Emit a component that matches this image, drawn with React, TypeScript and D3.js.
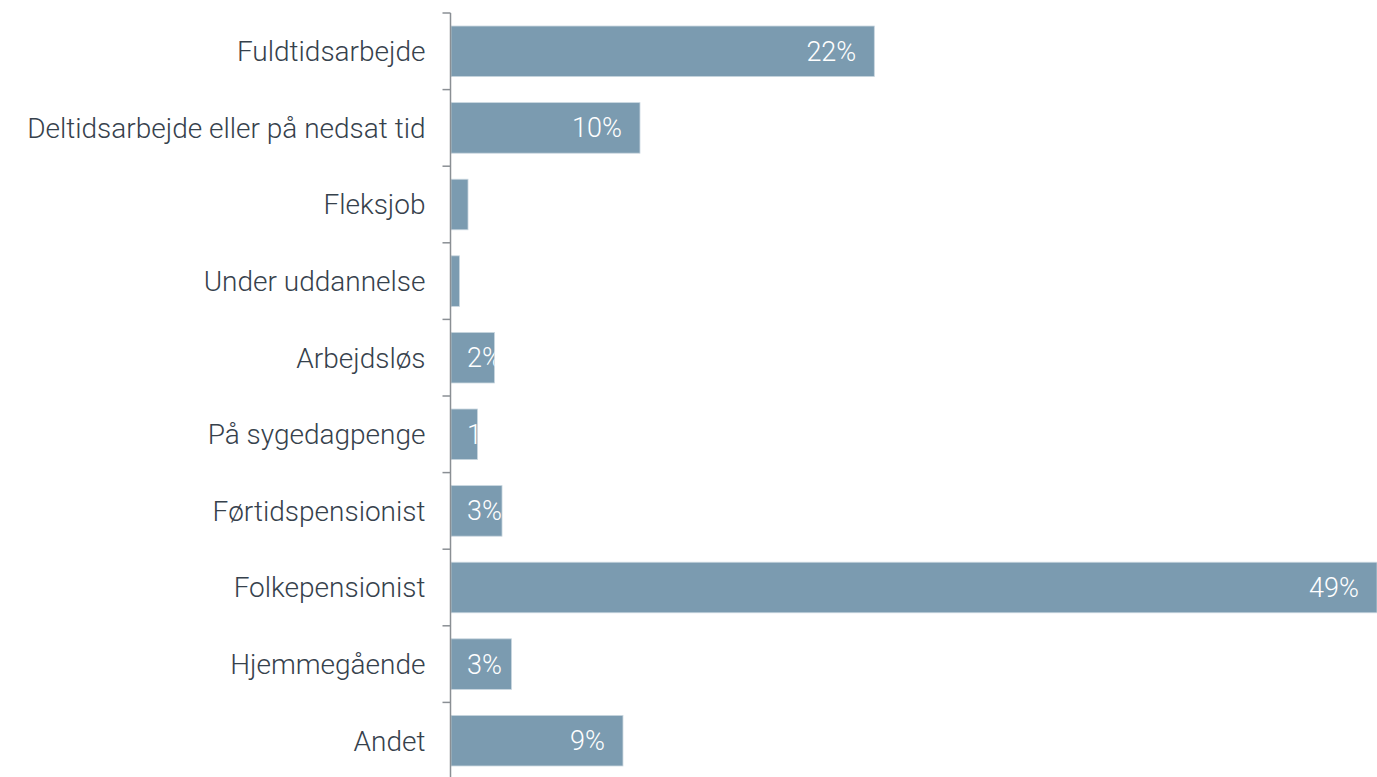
import React from "react";
import * as d3 from "d3";

const categories = [
  "Fuldtidsarbejde",
  "Deltidsarbejde eller på nedsat tid",
  "Fleksjob",
  "Under uddannelse",
  "Arbejdsløs",
  "På sygedagpenge",
  "Førtidspensionist",
  "Folkepensionist",
  "Hjemmegående",
  "Andet",
];
const values = [22.4, 10.0, 0.9, 0.45, 2.3, 1.4, 2.7, 49.0, 3.2, 9.1];

const W = 1377;
const H = 777;
const axisX = 450.5;
const x0 = 451;
const top = 13;
const bottom = 779;
const FONT = "Roboto, 'Noto Sans', sans-serif";

export default function App() {
  const y = d3.scaleBand<string>().domain(categories).range([top, bottom]).paddingInner(0.34).paddingOuter(0.17);
  const x = d3.scaleLinear().domain([0, d3.max(values)!]).range([x0, W]);
  const step = y.step();
  const ticks = d3.range(categories.length + 1).map((i) => top + i * step);

  return (
    <svg width={W} height={H} style={{ position: "absolute", left: 0, top: 0, display: "block" }}>
      <defs>
        {categories.map((c, i) => (
          <clipPath id={`clip${i}`} key={c}>
            <rect x={x0} y={y(c)!} width={x(values[i]) - x0} height={y.bandwidth()} />
          </clipPath>
        ))}
      </defs>
      {categories.map((c, i) => {
        const bw = x(values[i]) - x0;
        const label = `${Math.round(values[i])}%`;
        const lw = (label.length - 1) * 15.2 + 19.7;
        return (
          <g key={c}>
            <rect
              x={x0}
              y={y(c)!}
              width={bw}
              height={y.bandwidth()}
              fill="#7b9bb0"
              stroke="#c9d6df"
              strokeWidth={0.8}
            />
            {bw >= 20 && (
              <text
                clipPath={`url(#clip${i})`}
                x={Math.max(x(values[i]) - 18, x0 + 16 + lw)}
                y={y(c)! + y.bandwidth() / 2}
                dy="0.355em"
                textAnchor="end"
                fill="#ffffff"
                fontFamily={FONT}
                fontWeight={300}
                fontSize={27}
              >
                {label}
              </text>
            )}
            <text
              x={axisX - 25}
              y={y(c)! + y.bandwidth() / 2}
              dy="0.355em"
              textAnchor="end"
              fill="#36414c"
              fontFamily={FONT}
              fontWeight={300}
              fontSize={28}
            >
              {c}
            </text>
          </g>
        );
      })}
      <line x1={axisX} x2={axisX} y1={top} y2={H} stroke="#8a8f94" strokeWidth={1.5} />
      {ticks.map((t, i) => (
        <line key={i} x1={axisX - 8} x2={axisX} y1={t} y2={t} stroke="#8a8f94" strokeWidth={1.5} />
      ))}
    </svg>
  );
}
